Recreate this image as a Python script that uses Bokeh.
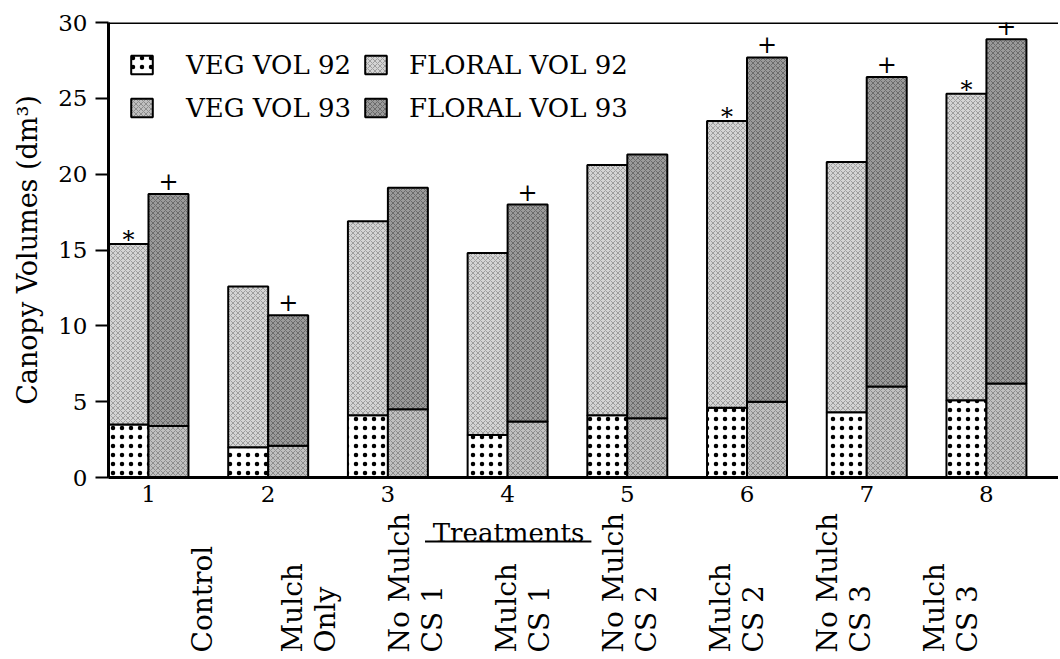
import numpy as np
from bokeh.plotting import figure
from bokeh.layouts import column
from bokeh.models import (ColumnDataSource, Range1d, FixedTicker, Span,
                          Legend, LegendItem)
from bokeh.core.properties import value
from bokeh.embed import file_html
from bokeh.resources import INLINE

# ---------------- data ----------------
treatments = [1, 2, 3, 4, 5, 6, 7, 8]
tick_labels = ["1", "2", "3", "4", "5", "6", "7", "8"]
treatment_names = ["Control", "Mulch\nOnly", "No Mulch\nCS 1", "Mulch\nCS 1",
                   "No Mulch\nCS 2", "Mulch\nCS 2", "No Mulch\nCS 3", "Mulch\nCS 3"]
veg_vol_92 = [3.5, 2.0, 4.1, 2.8, 4.1, 4.6, 4.3, 5.1]
floral_vol_92 = [11.9, 10.6, 12.8, 12.0, 16.5, 18.9, 16.5, 20.2]
veg_vol_93 = [3.4, 2.1, 4.5, 3.7, 3.9, 5.0, 6.0, 6.2]
floral_vol_93 = [15.3, 8.6, 14.6, 14.3, 17.4, 22.7, 20.4, 22.7]
signif_92 = ["*", "", "", "", "", "*", "", "*"]
signif_93 = ["+", "+", "", "+", "", "+", "+", "+"]

FONT = "DejaVu Serif"
W = 1058

x = np.array(treatments, dtype=float)
off = 0.167
bw = 0.334
v92 = np.array(veg_vol_92)
v93 = np.array(veg_vol_93)
src = ColumnDataSource(dict(
    x92=x - off, x93=x + off,
    veg92=v92, top92=v92 + np.array(floral_vol_92),
    veg93=v93, top93=v93 + np.array(floral_vol_93),
    s92=signif_92, s93=signif_93,
))

xr = Range1d(0.666, 8.602)
p = figure(width=W, height=513, output_backend="svg", toolbar_location=None,
           x_range=xr, y_range=Range1d(0, 30),
           min_border_left=108, min_border_right=0, min_border_top=22,
           min_border_bottom=36)
p.outline_line_color = None
p.grid.visible = False

common = dict(source=src, width=bw, line_color="black", line_width=2)
stipple = dict(hatch_pattern="x", hatch_scale=5, hatch_weight=1, hatch_alpha=0.45)
r_veg92 = p.vbar(x="x92", bottom=0, top="veg92", fill_color="white",
                 hatch_pattern="dot", hatch_scale=9, hatch_weight=3,
                 hatch_color="black", **common)
r_fl92 = p.vbar(x="x92", bottom="veg92", top="top92", fill_color="#d4d4d4",
                hatch_color="#5a5a5a", **stipple, **common)
r_veg93 = p.vbar(x="x93", bottom=0, top="veg93", fill_color="#c0c0c0",
                 hatch_color="#505050", **stipple, **common)
r_fl93 = p.vbar(x="x93", bottom="veg93", top="top93", fill_color="#9a9a9a",
                hatch_color="#303030", **stipple, **common)

p.text(x="x92", y="top92", text="s92", source=src, text_align="center",
       text_baseline="middle", y_offset=-4, text_font=value(FONT),
       text_font_size="24px", text_color="black")
p.text(x="x93", y="top93", text="s93", source=src, text_align="center",
       text_baseline="middle", y_offset=-13, text_font=value(FONT),
       text_font_size="24px", text_color="black")

p.add_layout(Span(location=30, dimension="width", line_color="black", line_width=3))

# axes
p.yaxis.ticker = FixedTicker(ticks=[0, 5, 10, 15, 20, 25, 30])
p.yaxis.minor_tick_line_color = None
p.yaxis.major_tick_in = 0
p.yaxis.major_tick_out = 13
p.yaxis.major_tick_line_width = 2
p.yaxis.axis_line_width = 3
p.yaxis.major_label_standoff = 8
p.yaxis.major_label_text_font = FONT
p.yaxis.major_label_text_font_size = "23px"
p.yaxis.major_label_text_color = "black"
p.yaxis.axis_label = "Canopy Volumes (dm³)"
p.yaxis.axis_label_text_font = FONT
p.yaxis.axis_label_text_font_size = "27px"
p.yaxis.axis_label_text_font_style = "normal"
p.yaxis.axis_label_text_color = "black"
p.yaxis.axis_label_standoff = 12

p.xaxis.ticker = FixedTicker(ticks=treatments)
p.xaxis.major_label_overrides = {t: l for t, l in zip(treatments, tick_labels)}
p.xaxis.minor_tick_line_color = None
p.xaxis.major_tick_in = 0
p.xaxis.major_tick_out = 0
p.xaxis.axis_line_width = 3
p.xaxis.major_label_standoff = 8
p.xaxis.major_label_text_font = FONT
p.xaxis.major_label_text_font_size = "23px"
p.xaxis.major_label_text_color = "black"

# legends (two columns)
def make_legend(items, loc, standoff):
    lg = Legend(items=items, location=loc)
    lg.glyph_width = 27
    lg.glyph_height = 23
    lg.label_height = 31
    lg.label_standoff = standoff
    lg.spacing = 12
    lg.padding = 0
    lg.margin = 0
    lg.border_line_color = None
    lg.background_fill_alpha = 0
    lg.label_text_font = FONT
    lg.label_text_font_size = "26px"
    lg.label_text_color = "black"
    return lg

p.add_layout(make_legend([LegendItem(label="VEG VOL 92", renderers=[r_veg92]),
                          LegendItem(label="VEG VOL 93", renderers=[r_veg93])],
                         (20, 354), 31))
p.add_layout(make_legend([LegendItem(label="FLORAL VOL 92", renderers=[r_fl92]),
                          LegendItem(label="FLORAL VOL 93", renderers=[r_fl93])],
                         (254, 354), 20))

# ---------------- lower panel: treatment names ----------------
p2 = figure(width=W, height=144, output_backend="svg", toolbar_location=None,
            x_range=xr, y_range=Range1d(-11.868, -2.374),
            min_border_left=108, min_border_right=0, min_border_top=0,
            min_border_bottom=0, x_axis_location=None, y_axis_location=None)
p2.outline_line_color = None
p2.grid.visible = False

label_x = [1.451 + 0.893 * i for i in range(len(treatments))]
lab_src = ColumnDataSource(dict(x=label_x, y=[-11.54] * len(treatments), text=treatment_names))
p2.text(x="x", y="y", text="text", source=lab_src, angle=np.pi / 2,
        text_align="left", text_baseline="middle", text_font=value(FONT),
        text_font_size="28px", text_color="black", text_line_height=1.0)

p2.text(x=[4.008], y=[-3.63], text=["Treatments"], text_align="center",
        text_baseline="middle", text_font=value(FONT), text_font_size="26px",
        text_color="black")
p2.segment(x0=[3.31], y0=[-4.22], x1=[4.70], y1=[-4.22], line_color="black",
           line_width=2)

layout = column(p, p2, spacing=0)
open("out.html", "w").write(file_html(layout, INLINE))
